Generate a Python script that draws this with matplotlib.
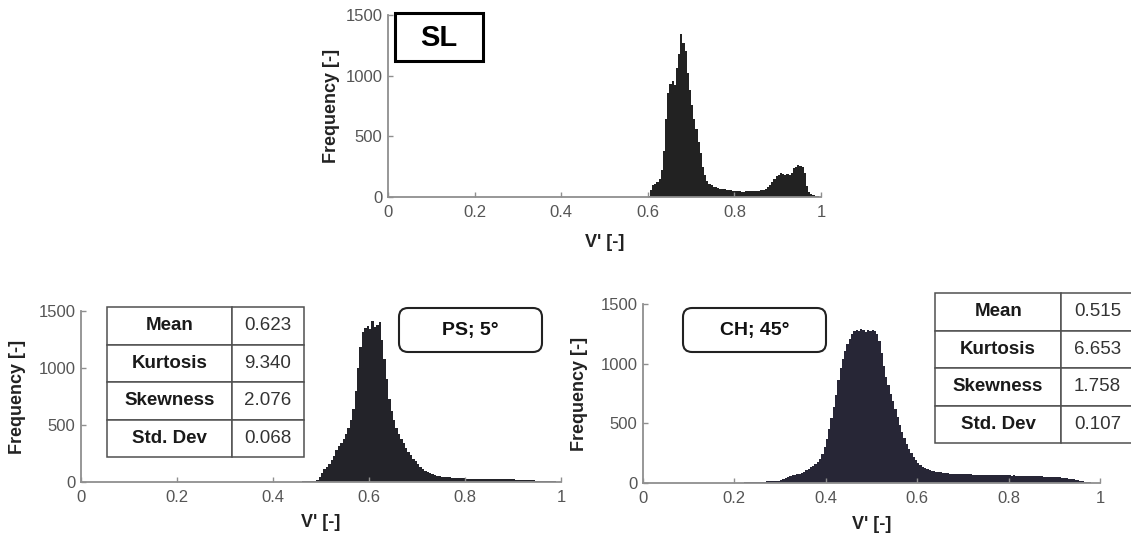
import numpy as np
import matplotlib
matplotlib.use("Agg")
import matplotlib.pyplot as plt
from matplotlib.patches import Rectangle, FancyBboxPatch

plt.rcParams['font.family'] = ['Liberation Sans', 'DejaVu Sans']

# ---------------- data ----------------
bin_width = 0.005

sl_start = 0.600
sl_counts = [10, 60, 95, 110, 120, 150, 220, 380, 640, 860,
             930, 960, 920, 1060, 1180, 1340, 1270, 1200, 1020, 880,
             760, 640, 560, 450, 360, 250, 180, 130, 110, 95,
             85, 80, 75, 70, 65, 62, 60, 58, 55, 52,
             50, 48, 47, 45, 44, 46, 48, 50, 52, 50,
             48, 50, 55, 60, 70, 85, 100, 125, 150, 170,
             185, 195, 190, 185, 190, 180, 200, 240, 250, 265,
             255, 250, 200, 90, 40, 25, 15, 8, 5, 2]

ps_start = 0.440
ps_counts = [3, 3, 4, 4, 5, 5, 6, 6, 8, 10,
             14, 40, 80, 115, 135, 160, 190, 230, 280, 320,
             345, 375, 420, 470, 540, 640, 800, 1000, 1180, 1320,
             1350, 1365, 1340, 1410, 1360, 1380, 1400, 1250, 1080, 900,
             730, 620, 540, 470, 420, 380, 340, 300, 265, 235,
             205, 180, 155, 130, 110, 95, 85, 75, 68, 62,
             56, 52, 48, 45, 43, 40, 38, 36, 34, 33,
             32, 31, 30, 30, 29, 30, 28, 29, 28, 27,
             28, 27, 26, 27, 26, 25, 26, 27, 25, 24,
             23, 22, 22, 21, 20, 19, 18, 17, 16, 15,
             14, 13, 12, 11, 10, 9, 8, 7, 6, 5,
             4, 3]

ch_start = 0.200
ch_counts = [3, 3, 4, 4, 5, 5, 6, 6, 7, 8,
             9, 10, 11, 12, 13, 14, 15, 16, 18, 20,
             25, 32, 42, 50, 58, 64, 70, 74, 78, 85,
             95, 105, 118, 130, 145, 160, 178, 198, 240, 300,
             370, 450, 545, 640, 740, 860, 960, 1040, 1110, 1165,
             1210, 1250, 1275, 1285, 1270, 1290, 1280, 1265, 1285, 1275,
             1280, 1270, 1250, 1190, 1090, 980, 890, 820, 750, 690,
             620, 550, 490, 430, 380, 330, 285, 250, 220, 195,
             170, 150, 135, 125, 118, 110, 103, 98, 93, 90,
             88, 85, 82, 80, 79, 78, 76, 77, 75, 74,
             75, 73, 72, 74, 71, 70, 71, 69, 70, 68,
             69, 67, 68, 66, 67, 65, 66, 64, 65, 63,
             64, 62, 63, 61, 62, 60, 61, 59, 60, 58,
             59, 57, 58, 56, 55, 54, 53, 52, 51, 50,
             49, 48, 47, 45, 43, 40, 37, 34, 30, 27,
             23, 19, 15, 11, 8, 5, 3, 2, 1, 0]

x_ticks = [0, 0.2, 0.4, 0.6, 0.8, 1.0]
x_ticklabels = ['0', '0.2', '0.4', '0.6', '0.8', '1']
y_ticks = [0, 500, 1000, 1500]
y_ticklabels = ['0', '500', '1000', '1500']

stat_names = ['Mean', 'Kurtosis', 'Skewness', 'Std. Dev']
ps_stats = ['0.623', '9.340', '2.076', '0.068']
ch_stats = ['0.515', '6.653', '1.758', '0.107']

labels = {'sl': 'SL', 'ps': 'PS; 5°', 'ch': 'CH; 45°'}

# ---------------- figure ----------------
W, H = 1131, 540
fig = plt.figure(figsize=(W / 100, H / 100), dpi=100)
fig.patch.set_facecolor('white')


def px_axes(x0, x1, ytop, ybot):
    return fig.add_axes([x0 / W, 1 - ybot / H, (x1 - x0) / W, (ybot - ytop) / H])


def fx(x):
    return x / W


def fy(y):
    return 1 - y / H


spine_col = '#8f8f8f'
tick_col = '#555555'


def style(ax, ylab_x, xlab_y):
    ax.set_xlim(0, 1)
    ax.set_ylim(0, 1500)
    ax.set_xticks(x_ticks)
    ax.set_xticklabels(x_ticklabels)
    ax.set_yticks(y_ticks)
    ax.set_yticklabels(y_ticklabels)
    for s in ['top', 'right']:
        ax.spines[s].set_visible(False)
    for s in ['left', 'bottom']:
        ax.spines[s].set_color(spine_col)
        ax.spines[s].set_linewidth(1.3)
    ax.tick_params(direction='in', length=3.5, width=1.0, color=spine_col,
                   labelcolor=tick_col, labelsize=12)
    ax.tick_params(axis='x', pad=6)
    ax.tick_params(axis='y', pad=4)
    ax.set_xlabel("V' [-]", fontsize=13, fontweight='bold', color='#222222')
    ax.set_ylabel('Frequency [-]', fontsize=13, fontweight='bold', color='#222222')
    ax.yaxis.set_label_coords(ylab_x, 0.5)
    ax.xaxis.set_label_coords(0.5, xlab_y)
    ax.patch.set_alpha(0)


def hist(ax, start, counts, color):
    counts = np.asarray(counts, dtype=float)
    edges = start + bin_width * np.arange(len(counts) + 1)
    ax.stairs(counts, edges, fill=True, color=color, linewidth=0)


def stats_table(ax, values, bbox):
    cells = [[n, v] for n, v in zip(stat_names, values)]
    tab = ax.table(cellText=cells, bbox=bbox, cellLoc='center',
                   colWidths=[125, 72])
    tab.auto_set_font_size(False)
    tab.set_fontsize(13.5)
    for (r, c), cell in tab.get_celld().items():
        cell.set_edgecolor('#505050')
        cell.set_linewidth(1.1)
        cell.set_facecolor('white')
        t = cell.get_text()
        t.set_color('#1a1a1a' if c == 0 else '#333333')
        if c == 0:
            t.set_fontweight('bold')
    tab.set_zorder(5)
    return tab


# --- top: SL ---
ax1 = px_axes(388, 821, 15, 197)
hist(ax1, sl_start, sl_counts, '#222222')
style(ax1, -0.112, -0.205)
fig.patches.append(Rectangle((fx(395), fy(61)), fx(483) - fx(395), fy(13) - fy(61),
                             transform=fig.transFigure, facecolor='white',
                             edgecolor='black', linewidth=2.2, zorder=6))
fig.text(fx(439), fy(38), labels['sl'], ha='center', va='center',
         fontsize=21, fontweight='bold', color='black', zorder=7)

# --- bottom left: PS ---
ax2 = px_axes(81, 561, 311, 482)
hist(ax2, ps_start, ps_counts, '#232329')
style(ax2, -0.114, -0.185)
x0, x1 = 107, 304
y0, y1 = 307, 457
stats_table(ax2, ps_stats,
            [(x0 - 81) / 480, (482 - y1) / 171, (x1 - x0) / 480, (y1 - y0) / 171])
fig.patches.append(FancyBboxPatch((fx(399), fy(352)), fx(542) - fx(399), fy(308) - fy(352),
                                  boxstyle='round,pad=0,rounding_size=0.008',
                                  transform=fig.transFigure, facecolor='white',
                                  edgecolor='#222222', linewidth=1.5, zorder=6,
                                  mutation_aspect=W / H))
fig.text(fx(470.5), fy(331), labels['ps'], ha='center', va='center',
         fontsize=14, fontweight='bold', color='#111111', zorder=7)

# --- bottom right: CH ---
ax3 = px_axes(643, 1100, 304, 483)
hist(ax3, ch_start, ch_counts, '#272636')
style(ax3, -0.120, -0.185)
x0, x1 = 935, 1134
y0, y1 = 293, 443
stats_table(ax3, ch_stats,
            [(x0 - 643) / 457, (483 - y1) / 179, (x1 - x0) / 457, (y1 - y0) / 179])
fig.patches.append(FancyBboxPatch((fx(683), fy(352)), fx(826) - fx(683), fy(308) - fy(352),
                                  boxstyle='round,pad=0,rounding_size=0.008',
                                  transform=fig.transFigure, facecolor='white',
                                  edgecolor='#222222', linewidth=1.5, zorder=6,
                                  mutation_aspect=W / H))
fig.text(fx(754.5), fy(331), labels['ch'], ha='center', va='center',
         fontsize=14, fontweight='bold', color='#111111', zorder=7)

fig.savefig('out.png', dpi=100, facecolor='white')
